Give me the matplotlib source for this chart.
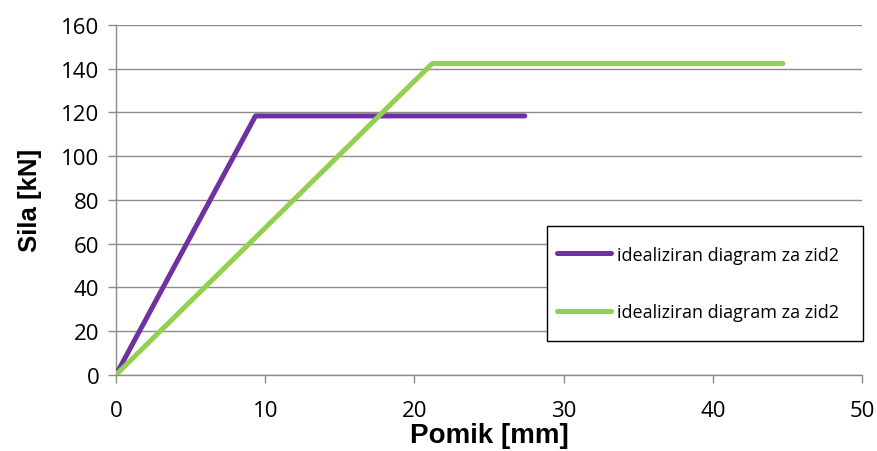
import matplotlib
matplotlib.use("Agg")
import matplotlib.pyplot as plt
from matplotlib.patches import Rectangle

# Idealised force-displacement diagrams
zid_a_x = [0, 9.35, 27.4]
zid_a_y = [0, 118.4, 118.4]
zid_b_x = [0, 21.2, 44.7]
zid_b_y = [0, 142.4, 142.4]
series_labels = ["idealiziran diagram za zid2", "idealiziran diagram za zid2"]
series_colors = ["#7030A0", "#92D050"]

x_ticks = [0, 10, 20, 30, 40, 50]
y_ticks = [0, 20, 40, 60, 80, 100, 120, 140, 160]

W, H = 877, 452
fig = plt.figure(figsize=(W / 100, H / 100), dpi=100)
ax = fig.add_axes([116 / W, 1 - 375.7 / H, (862 - 116) / W, (375.7 - 26) / H])

grid_c = "#8C8C8C"
for xs, ys, c, lab in [(zid_a_x, zid_a_y, series_colors[0], series_labels[0]),
                       (zid_b_x, zid_b_y, series_colors[1], series_labels[1])]:
    ax.plot(xs, ys, color=c, lw=3.6, solid_capstyle="round",
            solid_joinstyle="round", label=lab, zorder=3)

ax.set_xlim(0, 50)
ax.set_ylim(0, 160)
ax.set_xticks(x_ticks)
ax.set_yticks(y_ticks)
ax.yaxis.grid(True, color=grid_c, lw=1.0)
ax.set_axisbelow(True)
for s in ["top", "right"]:
    ax.spines[s].set_visible(False)
for s in ["left", "bottom"]:
    ax.spines[s].set_color(grid_c)
    ax.spines[s].set_linewidth(1.0)
ax.tick_params(axis="both", direction="out", length=6, width=1.0, color=grid_c,
               labelsize=16, pad=6)
for lbl in ax.get_xticklabels() + ax.get_yticklabels():
    lbl.set_family("Open Sans")
ax.tick_params(axis="x", pad=12)

ax.set_xlabel("Pomik [mm]", fontsize=20, fontweight="bold", family="Liberation Sans", labelpad=1)
ax.set_ylabel("Sila [kN]", fontsize=18.5, fontweight="bold", family="Liberation Sans", labelpad=14)

# legend box drawn separately, entries placed inside without their own frame
box = (547, 227, 863, 342)  # left, top, right, bottom in pixels
fig.patches.append(Rectangle((box[0] / W, 1 - box[3] / H),
                             (box[2] - box[0]) / W, (box[3] - box[1]) / H,
                             transform=fig.transFigure, facecolor="white",
                             edgecolor="black", lw=1.0, zorder=5))
leg = fig.legend(*ax.get_legend_handles_labels(), loc="center left",
                 bbox_to_anchor=(box[0] / W, 1 - (box[1] + box[3]) / 2 / H),
                 frameon=False, borderaxespad=0, handlelength=3.0, handletextpad=0.3,
                 labelspacing=2.2, borderpad=0.55, prop={"family": "Open Sans", "size": 13})
leg.set_zorder(6)

fig.savefig("out.png", dpi=100)
